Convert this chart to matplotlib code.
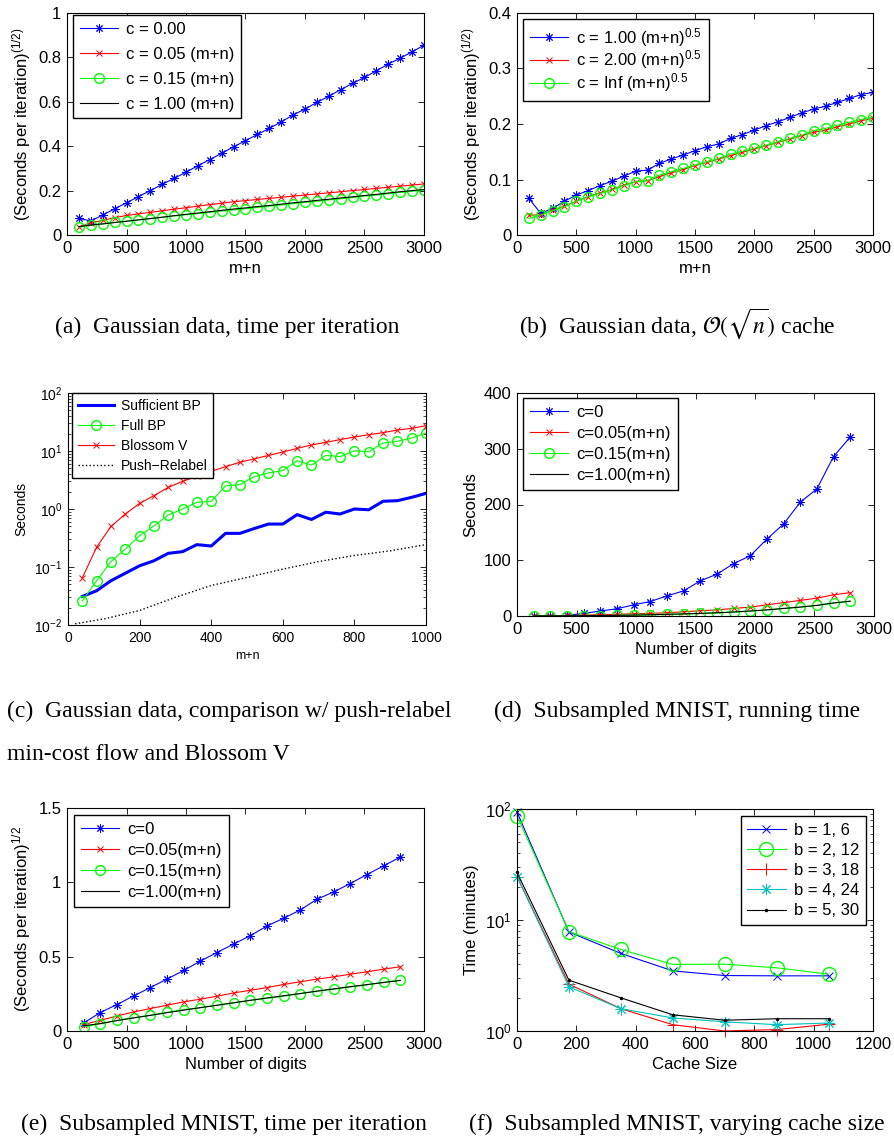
import numpy as np
import matplotlib.pyplot as plt
from matplotlib.ticker import FuncFormatter, LogLocator, NullFormatter

plt.rcParams['font.family'] = 'Liberation Sans'
plt.rcParams['mathtext.fontset'] = 'custom'
plt.rcParams['mathtext.rm'] = 'Liberation Sans'
plt.rcParams['mathtext.it'] = 'Liberation Sans:italic'
plt.rcParams['mathtext.bf'] = 'Liberation Sans:bold'

# (a) gaussian data, time per iteration
x_a = np.arange(100, 3001, 100)
a_c0 = [0.075, 0.063, 0.090, 0.118, 0.145, 0.173, 0.200, 0.228, 0.255, 0.283,
        0.312, 0.340, 0.368, 0.397, 0.425, 0.453, 0.480, 0.510, 0.540, 0.568,
        0.597, 0.625, 0.655, 0.683, 0.710, 0.740, 0.770, 0.797, 0.825, 0.855]
a_c05 = [0.035, 0.055, 0.066, 0.078, 0.088, 0.095, 0.102, 0.109, 0.116, 0.123,
         0.130, 0.137, 0.143, 0.150, 0.155, 0.160, 0.165, 0.170, 0.175, 0.180,
         0.185, 0.190, 0.195, 0.200, 0.205, 0.210, 0.215, 0.220, 0.225, 0.230]
a_c15 = [0.035, 0.045, 0.050, 0.057, 0.062, 0.068, 0.074, 0.080, 0.086, 0.091,
         0.096, 0.102, 0.108, 0.113, 0.118, 0.124, 0.130, 0.135, 0.141, 0.147,
         0.152, 0.158, 0.163, 0.169, 0.175, 0.180, 0.186, 0.192, 0.197, 0.203]
a_c100 = [0.038, 0.045, 0.050, 0.056, 0.062, 0.068, 0.074, 0.080, 0.087, 0.093,
          0.099, 0.105, 0.111, 0.117, 0.122, 0.128, 0.133, 0.139, 0.145, 0.150,
          0.156, 0.161, 0.167, 0.172, 0.178, 0.183, 0.189, 0.195, 0.200, 0.205]

# (b) sqrt(n) cache
b_c1 = [0.066, 0.039, 0.048, 0.061, 0.072, 0.080, 0.089, 0.097, 0.106, 0.115,
        0.117, 0.129, 0.137, 0.144, 0.152, 0.159, 0.164, 0.174, 0.181, 0.189,
        0.197, 0.204, 0.212, 0.220, 0.227, 0.232, 0.239, 0.246, 0.253, 0.257]
b_c2 = [0.036, 0.036, 0.045, 0.052, 0.061, 0.069, 0.076, 0.082, 0.090, 0.096,
        0.098, 0.105, 0.112, 0.118, 0.125, 0.131, 0.137, 0.143, 0.149, 0.155,
        0.161, 0.167, 0.173, 0.179, 0.185, 0.189, 0.195, 0.200, 0.206, 0.210]
b_inf = [0.030, 0.036, 0.044, 0.051, 0.061, 0.069, 0.075, 0.081, 0.089, 0.096,
         0.098, 0.108, 0.114, 0.120, 0.126, 0.132, 0.138, 0.146, 0.151, 0.156,
         0.162, 0.168, 0.174, 0.180, 0.188, 0.192, 0.198, 0.203, 0.208, 0.213]

# (c) comparison w/ push-relabel and blossom V
x_c = np.arange(40, 1001, 40)
c_suff = [0.031, 0.039, 0.058, 0.078, 0.105, 0.128, 0.172, 0.184, 0.243, 0.23,
          0.38, 0.38, 0.46, 0.55, 0.55, 0.80, 0.66, 0.88, 0.82, 1.0,
          0.97, 1.36, 1.39, 1.59, 1.86]
c_full = [0.026, 0.058, 0.124, 0.204, 0.347, 0.51, 0.79, 1.0, 1.3, 1.36,
          2.5, 2.63, 3.6, 4.2, 4.6, 6.8, 5.7, 8.4, 8.0, 10.1,
          9.7, 13.7, 14.7, 16.8, 20.4]
c_blossom = [0.065, 0.22, 0.5, 0.82, 1.25, 1.7, 2.36, 3.0, 3.66, 4.46,
             5.37, 6.4, 7.3, 8.4, 9.6, 11.1, 12.7, 14.1, 15.7, 17.4,
             19.1, 20.7, 23.0, 24.6, 27.3]
x_pr = [20, 100, 200, 300, 400, 500, 600, 700, 800, 900, 1000]
c_push = [0.0105, 0.0127, 0.0178, 0.030, 0.048, 0.066, 0.092, 0.124, 0.158, 0.19, 0.243]

# (d), (e) subsampled MNIST
x_d = np.arange(140, 2801, 140)
d_c0 = [0.2, 0.4, 1.2, 4.5, 9, 13, 20, 26, 36, 45,
        63, 75, 94, 108, 138, 165, 204, 228, 286, 321]
d_c05 = [0.5, 0.5, 1.0, 1.5, 2.5, 3.0, 4.0, 4.5, 6.0, 7.5,
         9.5, 11, 13.5, 16, 20, 24, 28, 32, 38, 42]
d_c15 = [0.3, 0.3, 0.4, 0.6, 0.8, 1.0, 1.5, 2.0, 3.0, 3.5,
         4.5, 5.5, 7.0, 8.5, 11, 13.5, 16, 19, 23, 26.5]
d_c100 = [0.2, 0.3, 0.4, 0.6, 0.9, 1.2, 1.7, 2.2, 3.0, 3.8,
          4.7, 5.8, 7.2, 9.0, 11, 13.5, 16, 19, 23.5, 26.5]

e_c0 = [0.054, 0.124, 0.178, 0.236, 0.292, 0.349, 0.407, 0.470, 0.528, 0.585,
        0.641, 0.706, 0.758, 0.814, 0.886, 0.935, 0.992, 1.052, 1.111, 1.169]
e_c05 = [0.043, 0.072, 0.101, 0.128, 0.151, 0.173, 0.196, 0.214, 0.234, 0.256,
         0.274, 0.292, 0.313, 0.331, 0.349, 0.364, 0.382, 0.398, 0.416, 0.432]
e_c15 = [0.027, 0.049, 0.072, 0.090, 0.106, 0.126, 0.144, 0.157, 0.173, 0.189,
         0.207, 0.220, 0.234, 0.252, 0.268, 0.281, 0.297, 0.310, 0.328, 0.342]
e_c100 = [0.035, 0.050, 0.070, 0.088, 0.105, 0.123, 0.140, 0.157, 0.173, 0.190,
          0.206, 0.222, 0.237, 0.252, 0.268, 0.283, 0.298, 0.312, 0.326, 0.340]

# (f) varying cache size
x_f = [0, 175, 350, 525, 700, 875, 1050]
f_b1 = [94, 7.8, 5.0, 3.48, 3.16, 3.14, 3.14]
f_b2 = [87, 7.85, 5.43, 3.98, 4.0, 3.71, 3.25]
f_b3 = [24.6, 2.64, 1.59, 1.14, 1.0, 1.03, 1.15]
f_b4 = [24.6, 2.5, 1.59, 1.31, 1.21, 1.14, 1.18]
f_b5 = [26.8, 2.87, 1.99, 1.40, 1.25, 1.29, 1.29]

W, H = 894, 1140
fig = plt.figure(figsize=(W / 100, H / 100), dpi=100)

AST = (8, 2, 0)  # matlab style asterisk
fmt_g = FuncFormatter(lambda v, p: '%g' % v)


def add_ax(x0, y0, x1, y1):
    return fig.add_axes([x0 / W, 1 - y1 / H, (x1 - x0) / W, (y1 - y0) / H])


def style(ax, fs, log=False):
    ax.tick_params(direction='in', top=True, right=True, labelsize=fs,
                   length=4, width=0.6, pad=4)
    ax.tick_params(which='minor', direction='in', top=True, right=True,
                   length=2, width=0.5)
    for s in ax.spines.values():
        s.set_linewidth(0.8)
    if log:
        ax.yaxis.set_minor_locator(LogLocator(base=10, subs=np.arange(2, 10)))
        ax.yaxis.set_minor_formatter(NullFormatter())
    else:
        ax.yaxis.set_major_formatter(fmt_g)
    ax.xaxis.set_major_formatter(fmt_g)


def legend(ax, box, axbox, loc='upper left', fs=12, ls=0.3, hl=2.3):
    x0, y0 = axbox[0], axbox[1]
    w, h = axbox[2] - axbox[0], axbox[3] - axbox[1]
    if loc == 'upper left':
        anchor = ((box[0] - x0) / w, 1 - (box[1] - y0) / h)
    else:
        anchor = ((box[2] - x0) / w, 1 - (box[1] - y0) / h)
    leg = ax.legend(loc=loc, bbox_to_anchor=anchor, borderaxespad=0,
                    fancybox=False, edgecolor='k', framealpha=1, fontsize=fs,
                    handlelength=hl, handletextpad=0.5, labelspacing=ls,
                    borderpad=0.4)
    leg.get_frame().set_linewidth(1.0)
    return leg


lw = 0.8
amew = 0.7

# ---- (a)
box_a = (67, 13, 424, 235)
ax = add_ax(*box_a)
ax.plot(x_a, a_c0, color='b', marker=AST, ms=6, mew=amew, lw=lw, label='c = 0.00')
ax.plot(x_a, a_c05, color='r', marker='x', ms=5, mew=amew, lw=lw, label='c = 0.05 (m+n)')
ax.plot(x_a, a_c15, color=(0, 1, 0), marker='o', mfc='none', ms=7, lw=lw, label='c = 0.15 (m+n)')
ax.plot(x_a, a_c100, color='k', lw=lw, label='c = 1.00 (m+n)')
ax.set_xlim(0, 3000)
ax.set_ylim(0, 1)
ax.set_xticks(np.arange(0, 3001, 500))
ax.set_yticks(np.arange(0, 1.01, 0.2))
style(ax, 12)
ax.set_xlabel('m+n', fontsize=12)
ax.set_ylabel('(Seconds per iteration)$^{(1/2)}$', fontsize=12)
legend(ax, (73, 15, 247, 115), box_a, ls=0.6)

# ---- (b)
box_b = (517, 13, 873, 235)
ax = add_ax(*box_b)
ax.plot(x_a, b_c1, color='b', marker=AST, ms=6, mew=amew, lw=lw, label='c = 1.00 (m+n)$^{0.5}$')
ax.plot(x_a, b_c2, color='r', marker='x', ms=5, mew=amew, lw=lw, label='c = 2.00 (m+n)$^{0.5}$')
ax.plot(x_a, b_inf, color=(0, 1, 0), marker='o', mfc='none', ms=7, lw=lw, label='c = Inf (m+n)$^{0.5}$')
ax.set_xlim(0, 3000)
ax.set_ylim(0, 0.4)
ax.set_xticks(np.arange(0, 3001, 500))
ax.set_yticks(np.arange(0, 0.41, 0.1))
style(ax, 12)
ax.set_xlabel('m+n', fontsize=12)
ax.set_ylabel('(Seconds per iteration)$^{(1/2)}$', fontsize=12)
legend(ax, (523, 19, 714, 100), box_b, ls=0.0)

# ---- (c)
box_c = (68, 393, 426, 625)
ax = add_ax(*box_c)
ax.semilogy(x_c, c_suff, color='b', lw=2.2, label='Sufficient BP')
ax.semilogy(x_c, c_full, color=(0, 1, 0), marker='o', mfc='none', ms=7, lw=lw, label='Full BP')
ax.semilogy(x_c, c_blossom, color='r', marker='x', ms=5, mew=amew, lw=lw, label='Blossom V')
ax.semilogy(x_pr, c_push, color='k', ls=':', lw=1.0, label='Push\u2212Relabel')
ax.set_xlim(0, 1000)
ax.set_ylim(1e-2, 1e2)
ax.set_xticks(np.arange(0, 1001, 200))
style(ax, 10, log=True)
ax.set_xlabel('m+n', fontsize=9)
ax.set_ylabel('Seconds', fontsize=10)
legend(ax, (72, 393, 211, 475), box_c, fs=10, ls=0.44, hl=2.6)

# ---- (d)
box_d = (517, 393, 874, 616)
ax = add_ax(*box_d)
ax.plot(x_d, d_c0, color='b', marker=AST, ms=6, mew=amew, lw=lw, label='c=0')
ax.plot(x_d, d_c05, color='r', marker='x', ms=5, mew=amew, lw=lw, label='c=0.05(m+n)')
ax.plot(x_d, d_c15, color=(0, 1, 0), marker='o', mfc='none', ms=7, lw=lw, label='c=0.15(m+n)')
ax.plot(x_d, d_c100, color='k', lw=lw, label='c=1.00(m+n)')
ax.set_xlim(0, 3000)
ax.set_ylim(0, 400)
ax.set_xticks(np.arange(0, 3001, 500))
ax.set_yticks(np.arange(0, 401, 100))
style(ax, 12)
ax.set_xlabel('Number of digits', fontsize=12)
ax.set_ylabel('Seconds', fontsize=12)
legend(ax, (523, 398, 682, 489), box_d, ls=0.37)

# ---- (e)
box_e = (67, 808, 424, 1031)
ax = add_ax(*box_e)
ax.plot(x_d, e_c0, color='b', marker=AST, ms=6, mew=amew, lw=lw, label='c=0')
ax.plot(x_d, e_c05, color='r', marker='x', ms=5, mew=amew, lw=lw, label='c=0.05(m+n)')
ax.plot(x_d, e_c15, color=(0, 1, 0), marker='o', mfc='none', ms=7, lw=lw, label='c=0.15(m+n)')
ax.plot(x_d, e_c100, color='k', lw=lw, label='c=1.00(m+n)')
ax.set_xlim(0, 3000)
ax.set_ylim(0, 1.5)
ax.set_xticks(np.arange(0, 3001, 500))
ax.set_yticks([0, 0.5, 1, 1.5])
style(ax, 12)
ax.set_xlabel('Number of digits', fontsize=12)
ax.set_ylabel('(Seconds per iteration)$^{1/2}$', fontsize=12)
legend(ax, (74, 815, 230, 904), box_e, ls=0.37)

# ---- (f)
box_f = (517, 809, 873, 1031)
ax = add_ax(*box_f)
ax.semilogy(x_f, f_b1, color='b', marker='x', ms=6, mew=amew, lw=lw, label='b = 1, 6', clip_on=False)
ax.semilogy(x_f, f_b2, color=(0, 1, 0), marker='o', mfc='none', ms=10, lw=lw, label='b = 2, 12', clip_on=False)
ax.semilogy(x_f, f_b3, color='r', marker='+', ms=9, mew=amew, lw=lw, label='b = 3, 18', clip_on=False)
ax.semilogy(x_f, f_b4, color='c', marker=AST, ms=8, mew=amew, lw=lw, label='b = 4, 24', clip_on=False)
ax.semilogy(x_f, f_b5, color='k', marker='.', ms=3, lw=lw, label='b = 5, 30', clip_on=False)
ax.set_xlim(0, 1200)
ax.set_ylim(1, 100)
ax.set_xticks(np.arange(0, 1201, 200))
style(ax, 12, log=True)
ax.set_xlabel('Cache Size', fontsize=12)
ax.set_ylabel('Time (minutes)', fontsize=12)
legend(ax, (737, 816, 866, 926), box_f, loc='upper right', ls=0.31)

# ---- captions
cap = dict(family='Liberation Serif', fontsize=17, va='baseline')
fig.text(55 / W, 1 - 333 / H, '(a)  Gaussian data, time per iteration', ha='left', **cap)
t = fig.text(677 / W, 1 - 333 / H, r'(b)  Gaussian data, $\mathcal{O}(\sqrt{n})$ cache', ha='center', **cap)
t.set_math_fontfamily('stix')
fig.text(7 / W, 1 - 717 / H, '(c)  Gaussian data, comparison w/ push-relabel', ha='left', **cap)
fig.text(7 / W, 1 - 760 / H, 'min-cost flow and Blossom V', ha='left', **cap)
fig.text(677 / W, 1 - 717 / H, '(d)  Subsampled MNIST, running time', ha='center', **cap)
fig.text(21 / W, 1 - 1130 / H, '(e)  Subsampled MNIST, time per iteration', ha='left', **cap)
fig.text(677 / W, 1 - 1130 / H, '(f)  Subsampled MNIST, varying cache size', ha='center', **cap)

fig.savefig('out.png', dpi=100)
